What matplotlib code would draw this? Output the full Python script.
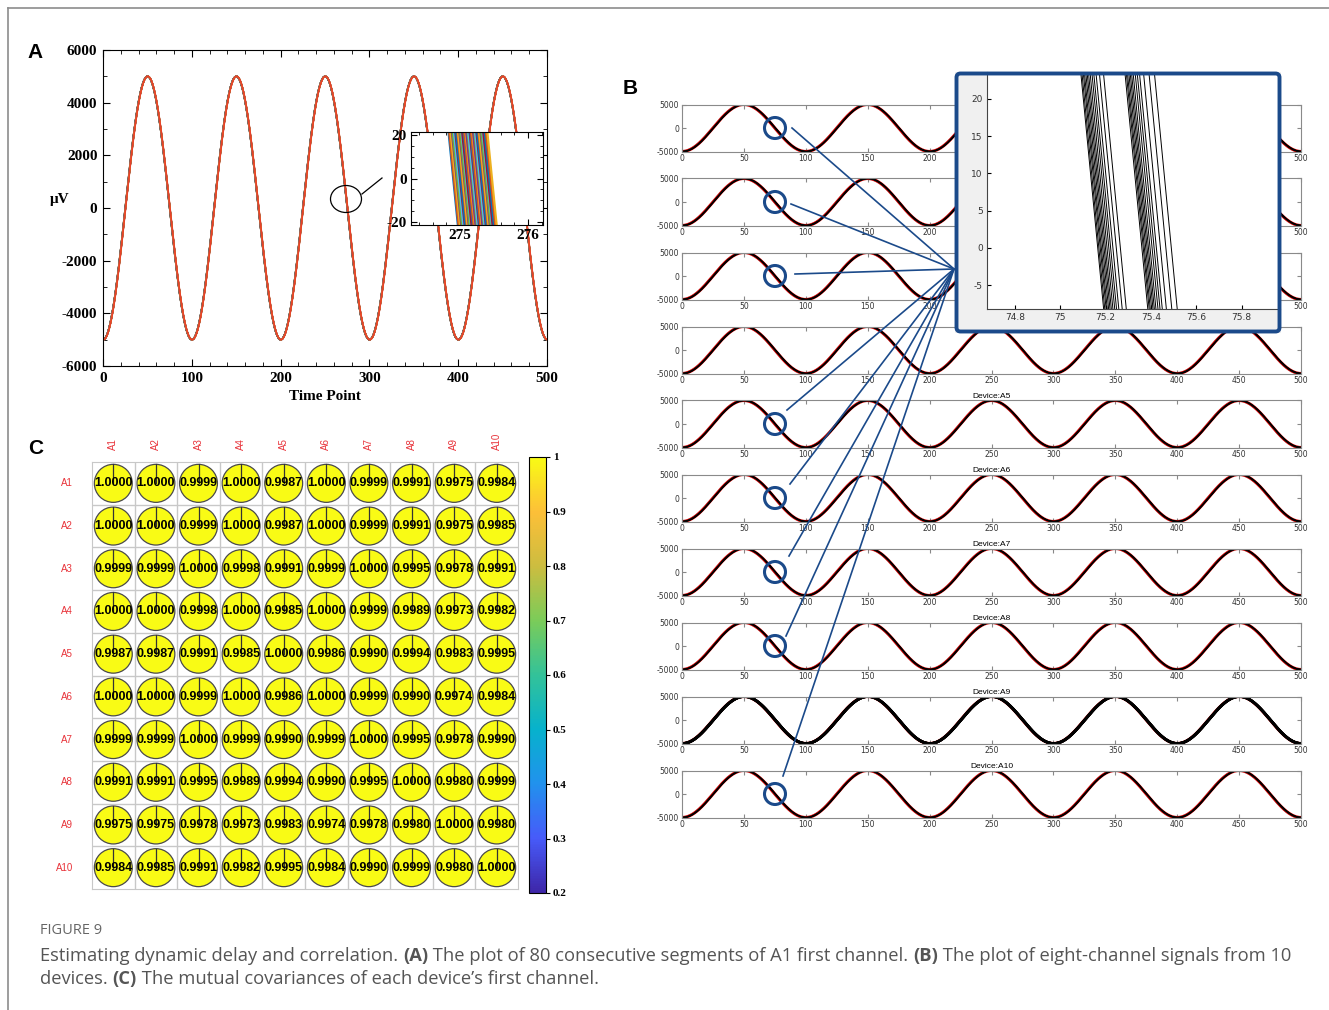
import numpy as np
import matplotlib.pyplot as plt
from matplotlib.patches import Circle, Ellipse, FancyBboxPatch
from matplotlib.colors import LinearSegmentedColormap, Normalize
from matplotlib.cm import ScalarMappable

plt.rcParams['axes.unicode_minus'] = False

W, H = 1329, 1010

# ---- data ----
amplitude = 5000          # uV
period = 100              # time points
# zero-crossing delays (time points) of the segments in panel A inset
a_delays = [-0.10, -0.09, -0.07, -0.05, -0.04, -0.02, 0.00, 0.01, 0.03, 0.04,
            0.06, 0.07, 0.09, 0.10, 0.12, 0.13, 0.15, 0.16, 0.18, 0.19,
            0.21, 0.22, 0.23, 0.25, 0.26, 0.28, 0.29, 0.31, 0.32, 0.34,
            0.35, 0.37, 0.38, 0.40, 0.41, 0.43, 0.45, 0.47]
a_colors = ['#0072BD', '#D95319', '#EDB120', '#7E2F8E', '#77AC30', '#4DBEEE', '#A2142F']
# delays of the channel traces in panel B inset
b_delays = [0.165, 0.170, 0.176, 0.181, 0.187, 0.193, 0.199, 0.206, 0.214, 0.222,
            0.232, 0.247, 0.265,
            0.360, 0.366, 0.371, 0.377, 0.383, 0.389, 0.396, 0.405, 0.414, 0.424,
            0.442, 0.466, 0.490]
devices = ['A1', 'A2', 'A3', 'A4', 'A5', 'A6', 'A7', 'A8', 'A9', 'A10']
circled = [True, True, True, False, True, True, True, True, False, True]
titled = [False, False, False, False, True, True, True, True, True, True]

corr = [
    [1.0000, 1.0000, 0.9999, 1.0000, 0.9987, 1.0000, 0.9999, 0.9991, 0.9975, 0.9984],
    [1.0000, 1.0000, 0.9999, 1.0000, 0.9987, 1.0000, 0.9999, 0.9991, 0.9975, 0.9985],
    [0.9999, 0.9999, 1.0000, 0.9998, 0.9991, 0.9999, 1.0000, 0.9995, 0.9978, 0.9991],
    [1.0000, 1.0000, 0.9998, 1.0000, 0.9985, 1.0000, 0.9999, 0.9989, 0.9973, 0.9982],
    [0.9987, 0.9987, 0.9991, 0.9985, 1.0000, 0.9986, 0.9990, 0.9994, 0.9983, 0.9995],
    [1.0000, 1.0000, 0.9999, 1.0000, 0.9986, 1.0000, 0.9999, 0.9990, 0.9974, 0.9984],
    [0.9999, 0.9999, 1.0000, 0.9999, 0.9990, 0.9999, 1.0000, 0.9995, 0.9978, 0.9990],
    [0.9991, 0.9991, 0.9995, 0.9989, 0.9994, 0.9990, 0.9995, 1.0000, 0.9980, 0.9999],
    [0.9975, 0.9975, 0.9978, 0.9973, 0.9983, 0.9974, 0.9978, 0.9980, 1.0000, 0.9980],
    [0.9984, 0.9985, 0.9991, 0.9982, 0.9995, 0.9984, 0.9990, 0.9999, 0.9980, 1.0000],
]
cbar_ticks = [0.2, 0.3, 0.4, 0.5, 0.6, 0.7, 0.8, 0.9, 1.0]
cbar_labels = ['0.2', '0.3', '0.4', '0.5', '0.6', '0.7', '0.8', '0.9', '1']


def wave(t, d):
    return -amplitude * np.cos(2 * np.pi * (np.asarray(t) - d) / period)


fig = plt.figure(figsize=(W / 100, H / 100), dpi=100)


def fax(x0, y0, x1, y1, **kw):
    return fig.add_axes([x0 / W, 1 - y1 / H, (x1 - x0) / W, (y1 - y0) / H], **kw)


serif = 'Liberation Serif'
sans = 'Liberation Sans'


def serif_ticks(ax, size):
    for lab in ax.get_xticklabels() + ax.get_yticklabels():
        lab.set_fontfamily(serif)
        lab.set_fontweight('bold')
        lab.set_fontsize(size)


# ---------------- Panel A ----------------
t = np.linspace(0, 500, 5001)
axA = fax(103, 50, 547, 366)
for i, d in enumerate(a_delays):
    axA.plot(t, wave(t, d), color=a_colors[i % 7], lw=1.0)
axA.plot(t, wave(t, a_delays[-1]), color='#E8402A', lw=1.2)
axA.set_xlim(0, 500)
axA.set_ylim(-6000, 6000)
axA.set_xticks(range(0, 501, 100))
axA.set_xticks(range(0, 501, 20), minor=True)
axA.set_yticks(range(-6000, 6001, 2000))
axA.set_yticks(range(-6000, 6001, 1000), minor=True)
axA.tick_params(which='both', direction='in', top=True, right=True)
axA.tick_params(which='major', length=5, pad=4)
axA.tick_params(which='minor', length=3)
serif_ticks(axA, 11)

# inset of panel A
tz = np.linspace(274, 277, 400)
axAi = fax(411, 132, 543, 225)
for i, d in enumerate(a_delays):
    axAi.plot(tz, wave(tz, d), color=a_colors[i % 7], lw=1.6)
axAi.set_xlim(274.28, 276.22)
axAi.set_ylim(-21.5, 21.5)
axAi.set_xticks([275, 276])
axAi.set_xticks(np.arange(274.4, 276.21, 0.2), minor=True)
axAi.set_yticks([-20, 0, 20])
axAi.set_yticks(range(-20, 21, 5), minor=True)
axAi.tick_params(which='both', direction='in', top=True, right=True)
axAi.tick_params(which='major', length=4, pad=3)
axAi.tick_params(which='minor', length=2)
serif_ticks(axAi, 11)

# ---------------- Panel B ----------------
for i, dev in enumerate(devices):
    ax = fax(682, 104.5 + 74 * i, 1301, 151.5 + 74 * i)
    ax.plot(t, wave(t, 0), color='#C00000', lw=2.2)
    lw = 1.9 if dev == 'A9' else 0.8
    for d in b_delays[::6]:
        ax.plot(t, wave(t, d), color='black', lw=lw)
    ax.set_xlim(0, 500)
    ax.set_ylim(-5000, 5000)
    ax.set_xticks(range(0, 501, 50))
    ax.set_yticks([-5000, 0, 5000])
    ax.tick_params(direction='in', top=True, right=True, length=3, pad=2,
                   labelsize=5.5, labelcolor='#333333', color='#888888')
    for sp in ax.spines.values():
        sp.set_color('#8a8a8a')
        sp.set_linewidth(0.8)
    if titled[i]:
        ax.set_title('Device:' + dev, fontsize=6, pad=1.5, fontfamily=sans)

# ---------------- Panel C ----------------
parula = LinearSegmentedColormap.from_list('parula', [
    (0.000, (0.2422, 0.1504, 0.6603)),
    (0.125, (0.2780, 0.3556, 0.9777)),
    (0.250, (0.1300, 0.5700, 0.9300)),
    (0.375, (0.0265, 0.6970, 0.8011)),
    (0.500, (0.2000, 0.7600, 0.6000)),
    (0.625, (0.4800, 0.7990, 0.3500)),
    (0.750, (0.8000, 0.7400, 0.2500)),
    (0.875, (0.9900, 0.7500, 0.2200)),
    (1.000, (0.9769, 0.9839, 0.0805)),
])
norm = Normalize(0.2, 1.0)

axC = fax(92, 462, 518, 889)
axC.set_xlim(0, 10)
axC.set_ylim(10, 0)
axC.set_xticks([])
axC.set_yticks([])
for sp in axC.spines.values():
    sp.set_color('#c8c8c8')
for k in range(1, 10):
    axC.axhline(k, color='#c8c8c8', lw=1)
    axC.axvline(k, color='#c8c8c8', lw=1)
r = 0.445
for i, row in enumerate(corr):
    for j, v in enumerate(row):
        cx, cy = j + 0.5, i + 0.5
        axC.add_patch(Circle((cx, cy), r, facecolor=parula(norm(v)),
                             edgecolor='#4a4a4a', lw=0.9))
        axC.plot([cx, cx], [cy, cy - r], color='#333333', lw=0.9)
        axC.text(cx, cy, f'{v:.4f}', ha='center', va='center', fontsize=9,
                 fontweight='bold', fontfamily=sans)
for k, dev in enumerate(devices):
    axC.text(k + 0.5, -0.27, dev, rotation=90, ha='center', va='bottom',
             color='#E8333A', fontsize=7, fontfamily=sans)
    axC.text(-0.45, k + 0.5, dev, ha='right', va='center',
             color='#E8333A', fontsize=7, fontfamily=sans)

cax = fax(529, 457, 546, 893)
cb = fig.colorbar(ScalarMappable(norm=norm, cmap=parula), cax=cax, ticks=cbar_ticks)
cb.set_ticklabels(cbar_labels)
cb.outline.set_linewidth(0.8)
cax.tick_params(direction='out', length=3, pad=2)
for lab in cax.get_yticklabels():
    lab.set_fontfamily(serif)
    lab.set_fontweight('bold')
    lab.set_fontsize(8)

# ---------------- overlay (pixel coordinates) ----------------
ov = fax(0, 0, W, H, zorder=5)
ov.set_xlim(0, W)
ov.set_ylim(H, 0)
ov.axis('off')
ov.patch.set_alpha(0)

ov.plot([8, W], [8, 8], color='#8c8c8c', lw=1.2)
ov.plot([8, 8], [8, H], color='#8c8c8c', lw=1.2)

ov.text(35, 52, 'A', fontsize=15, fontweight='bold', ha='center', va='center', fontfamily=sans)
ov.text(630, 89, 'B', fontsize=15, fontweight='bold', ha='center', va='center', fontfamily=sans)
ov.text(36, 449, 'C', fontsize=15, fontweight='bold', ha='center', va='center', fontfamily=sans)

ov.text(60, 200, 'μV', fontsize=11, fontweight='bold', ha='center', va='center', fontfamily=serif)
ov.text(325, 397, 'Time Point', fontsize=11, fontweight='bold', ha='center', va='center', fontfamily=serif)
ov.add_patch(Ellipse((346, 199), 31, 27, fill=False, ec='black', lw=0.9))
ov.plot([362, 382], [194, 178], color='black', lw=0.9)

blue = '#1B4A8A'
hub = (954, 269)
link_start = {0: (792, 128), 1: (791, 204), 2: (795, 274), 4: (787, 410),
              5: (790, 484), 6: (789, 556), 7: (786, 636), 9: (783, 776)}
for i, flag in enumerate(circled):
    if not flag:
        continue
    ov.add_patch(Circle((775, 128 + 74 * i), 10.5, fill=False, ec=blue, lw=2.2))
    sx, sy = link_start[i]
    ov.plot([sx, hub[0]], [sy, hub[1]], color=blue, lw=1.2)

# caption
cap_size = 13.2
ov.text(40, 930, 'FIGURE 9', fontsize=10.5, color='#666666', ha='left', va='center',
        fontfamily='Open Sans')
cap_lines = [
    [('Estimating dynamic delay and correlation. ', 'normal'), ('(A)', 'bold'),
     (' The plot of 80 consecutive segments of A1 first channel. ', 'normal'),
     ('(B)', 'bold'), (' The plot of eight-channel signals from 10', 'normal')],
    [('devices. ', 'normal'), ('(C)', 'bold'),
     (' The mutual covariances of each device’s first channel.', 'normal')],
]
for k, parts in enumerate(cap_lines):
    y = 961 + 23 * k
    prev = ov.text(40, y, parts[0][0], fontsize=cap_size, color='#555555', ha='left',
                   va='baseline', fontweight=parts[0][1], fontfamily='Open Sans')
    for txt, wt in parts[1:]:
        prev = ov.annotate(txt, xy=(1, 0), xycoords=prev, ha='left', va='bottom',
                           fontsize=cap_size, color='#555555', fontweight=wt,
                           fontfamily='Open Sans')

# ---------------- Panel B inset ----------------
bg = fax(955, 72, 1281, 333, zorder=10)
bg.set_facecolor('#F0F0F0')
bg.set_xticks([])
bg.set_yticks([])
for sp in bg.spines.values():
    sp.set_visible(False)

tb = np.linspace(74.5, 76.2, 400)
axBi = fax(987, 72, 1280, 309, zorder=11)
for d in b_delays:
    axBi.plot(tb, wave(tb, d), color='black', lw=0.7)
axBi.set_xlim(74.676, 75.97)
axBi.set_ylim(-8.2, 23.6)
axBi.set_xticks([74.8, 75.0, 75.2, 75.4, 75.6, 75.8])
axBi.set_xticklabels(['74.8', '75', '75.2', '75.4', '75.6', '75.8'])
axBi.set_yticks([-5, 0, 5, 10, 15, 20])
axBi.tick_params(direction='in', length=3, pad=3, labelsize=6.5, labelcolor='#333333')
axBi.spines['top'].set_visible(False)
axBi.spines['right'].set_visible(False)
for s in ('left', 'bottom'):
    axBi.spines[s].set_color('#444444')
    axBi.spines[s].set_linewidth(0.8)

brd = fax(955, 72, 1281, 333, zorder=12)
brd.set_xlim(0, 326)
brd.set_ylim(261, 0)
brd.axis('off')
brd.patch.set_alpha(0)
brd.add_patch(FancyBboxPatch((1.5, 1.5), 323, 258, boxstyle='round,pad=0,rounding_size=4',
                             fill=False, ec=blue, lw=2.8, clip_on=False))

fig.savefig('out.png', dpi=100)
